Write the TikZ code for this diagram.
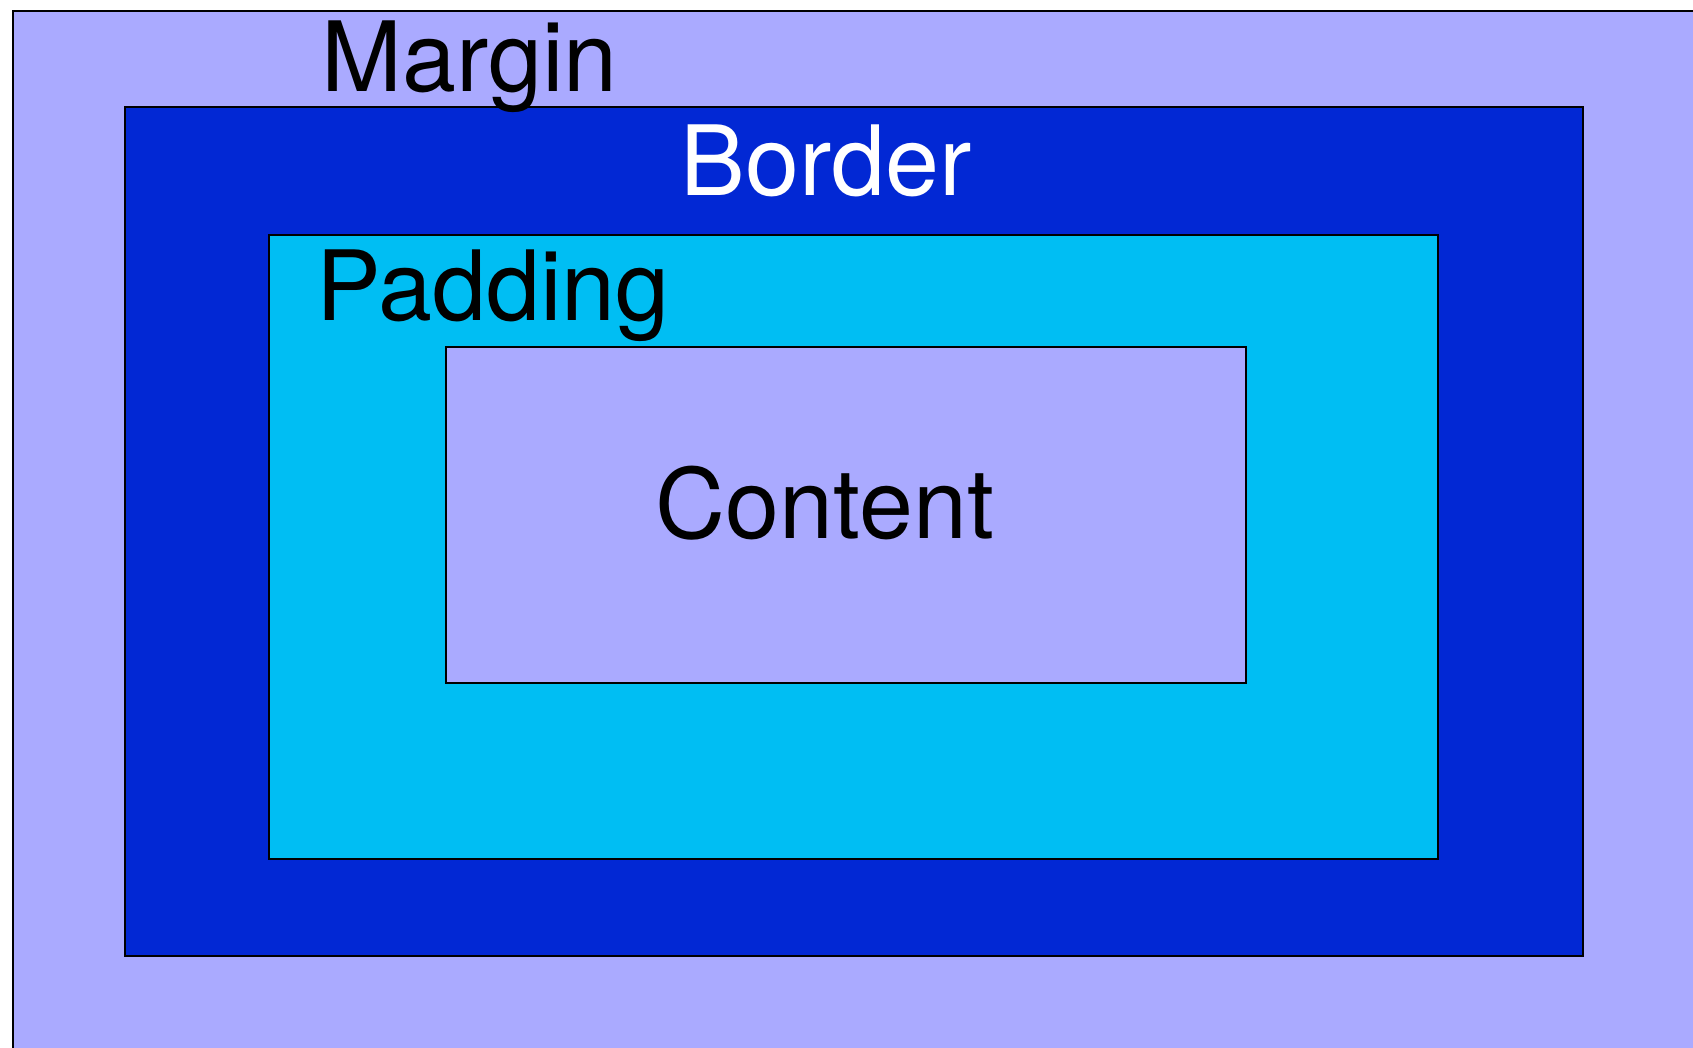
\documentclass[tikz,border=0pt]{standalone}
\usepackage{fontspec}
\setmainfont{TeX Gyre Heros}
\definecolor{marginc}{RGB}{170,170,255}
\definecolor{borderc}{RGB}{2,40,212}
\definecolor{paddingc}{RGB}{0,190,243}
\begin{document}
\begin{tikzpicture}[x=1pt,y=-1pt,
  boxline/.style={draw=black,line width=2pt},
  lbl/.style={inner sep=0pt,anchor=base,font=\fontsize{97}{110}\selectfont}]
\useasboundingbox (0,0) rectangle (1693,1048);
\clip (0,0) rectangle (1693,1048);
\fill[white] (0,0) rectangle (1693,1048);
\draw[boxline,fill=marginc] (13,11) rectangle (1720,1080);
\draw[boxline,fill=borderc] (125,107) rectangle (1583,956);
\draw[boxline,fill=paddingc] (269,235) rectangle (1438,859);
\draw[boxline,fill=marginc] (446,347) rectangle (1246,683);
\node[lbl,text=black] (margin) at (469.5,92) {Margin};
\node[lbl,text=white] (border) at (826.5,196) {Border};
\node[lbl,text=black] (padding) at (493,320) {Padding};
\node[lbl,text=black] (content) at (825,538) {Content};
\end{tikzpicture}
\end{document}
